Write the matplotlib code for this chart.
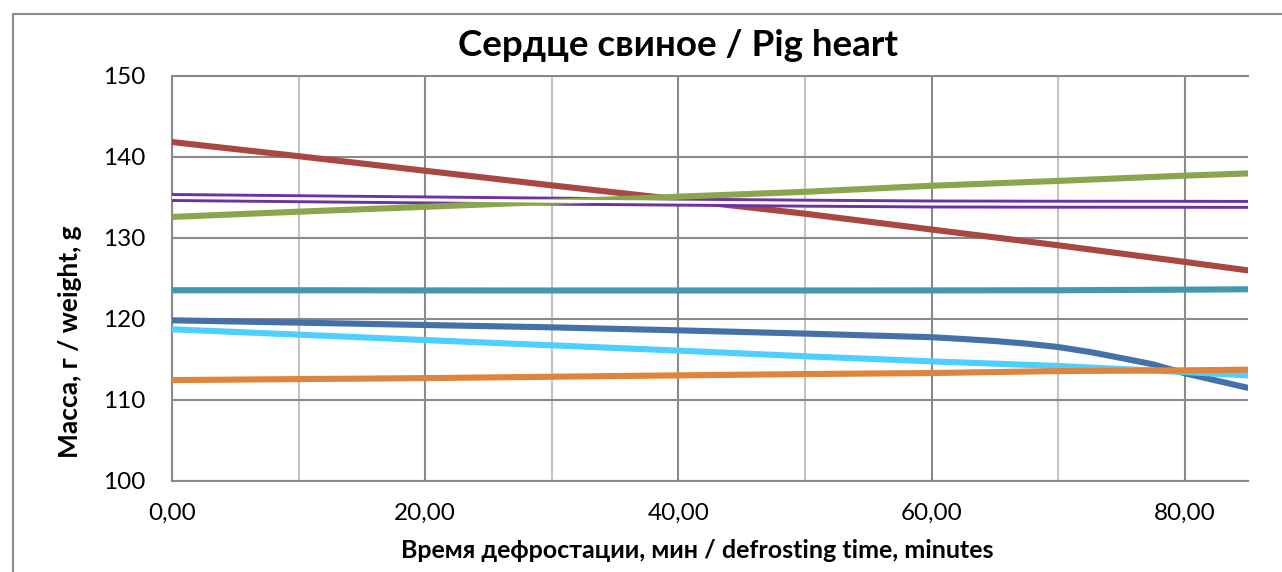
import matplotlib
matplotlib.use("Agg")
import matplotlib.pyplot as plt
from matplotlib.lines import Line2D
from matplotlib.ticker import FuncFormatter, MultipleLocator

plt.rcParams["font.family"] = ["Lato", "DejaVu Sans"]

# time points, minutes
time = [0, 10, 20, 30, 40, 50, 60, 70, 80, 85]
time_fine = [0, 10, 20, 30, 40, 50, 60, 62.5, 65, 67.5, 70, 72.5, 75, 77.5, 80, 82.5, 85]

red = [141.85, 140.1, 138.3, 136.5, 134.76, 133.0, 131.05, 129.1, 127.05, 126.0]
green = [132.6, 133.25, 133.85, 134.47, 135.1, 135.7, 136.45, 137.05, 137.7, 137.97]
purple = [135.0, 134.85, 134.7, 134.55, 134.43, 134.3, 134.2, 134.17, 134.16, 134.15]
teal = [123.55, 123.55, 123.53, 123.52, 123.52, 123.52, 123.53, 123.55, 123.62, 123.67]
light_blue = [118.73, 118.07, 117.4, 116.75, 116.1, 115.4, 114.77, 114.2, 113.45, 113.04]
orange = [112.46, 112.58, 112.7, 112.87, 113.04, 113.2, 113.33, 113.57, 113.66, 113.74]
dark_blue = [119.84, 119.55, 119.26, 118.97, 118.6, 118.2, 117.75, 117.53, 117.28, 116.96,
             116.54, 115.93, 115.18, 114.4, 113.3, 112.4, 111.5]

W, H = 1282, 572
fig = plt.figure(figsize=(W / 100, H / 100), dpi=100)
ax = fig.add_axes([172 / W, 1 - 481 / H, (1248 - 172) / W, (481 - 76) / H])

lw = 4.4
ax.plot(time, red, color="#AA4643", lw=lw, solid_capstyle="round", zorder=3)
ax.plot(time, purple, color="#7030A0", lw=6.4, solid_capstyle="projecting", zorder=3)
ax.plot(time, purple, color="white", lw=2.2, solid_capstyle="butt", zorder=3.1)
ax.plot(time, green, color="#89A54E", lw=lw, solid_capstyle="round", zorder=3)
ax.plot(time, teal, color="#4198AF", lw=lw, solid_capstyle="round", zorder=3)
ax.plot(time_fine, dark_blue, color="#4571A8", lw=lw, solid_capstyle="round", zorder=3)
ax.plot(time, light_blue, color="#4DCFFF", lw=lw, solid_capstyle="round", zorder=3)
ax.plot(time, orange, color="#DE843C", lw=lw, solid_capstyle="round", zorder=3)

ax.set_xlim(0, 85)
ax.set_ylim(100, 150)
ax.xaxis.set_major_locator(MultipleLocator(20))
ax.xaxis.set_minor_locator(MultipleLocator(10))
ax.yaxis.set_major_locator(MultipleLocator(10))
ax.xaxis.set_major_formatter(FuncFormatter(lambda v, p: f"{v:.2f}".replace(".", ",")))
ax.grid(which="major", axis="both", color="#8a8a8a", lw=1.5, zorder=1)
ax.grid(which="minor", axis="x", color="#c4c4c4", lw=1.5, zorder=1)
ax.tick_params(which="both", length=0, labelsize=17.5, colors="black")
ax.tick_params(axis="y", pad=19)
ax.tick_params(axis="x", pad=16)
for s in ["left", "bottom", "top"]:
    ax.spines[s].set_color("#8a8a8a")
    ax.spines[s].set_linewidth(1.5)
ax.spines["right"].set_visible(False)

fig.text(678 / W, 1 - 45 / H, "Сердце свиное / Pig heart", ha="center", va="center",
         fontsize=26.5, fontweight="bold")
fig.text(697 / W, 1 - 551 / H, "Время дефростации, мин / defrosting time, minutes",
         ha="center", va="center", fontsize=18, fontweight="bold")
fig.text(70 / W, 1 - 342 / H, "Масса, г / weight, g", ha="center", va="center",
         rotation=90, fontsize=19, fontweight="bold")

# outer chart border (left and top edges visible)
fig.add_artist(Line2D([13 / W, 13 / W, 1], [0, 1 - 14 / H, 1 - 14 / H],
                      transform=fig.transFigure, color="#8a8a8a", lw=1.5))

fig.savefig("out.png", dpi=100)
